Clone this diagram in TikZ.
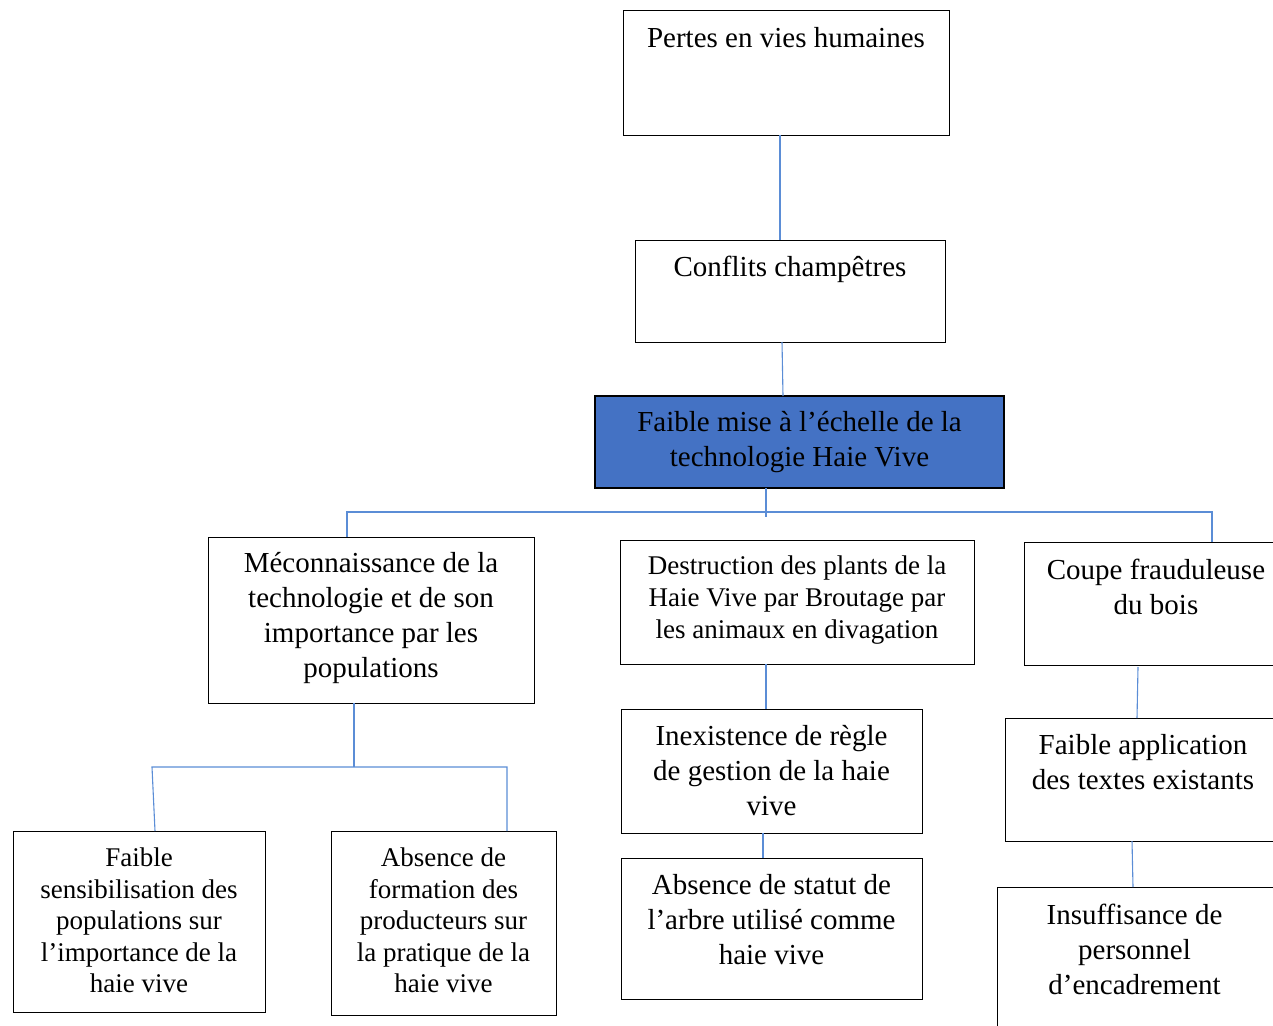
\documentclass[tikz,border=0pt]{standalone}
\usepackage{fontspec}
\setmainfont{Liberation Serif}
\usetikzlibrary{positioning}
\definecolor{linkblue}{RGB}{91,141,214}
\definecolor{miseblue}{RGB}{68,114,196}

\begin{document}
\begin{tikzpicture}[x=1pt,y=-1pt,
  box/.style={draw, line width=1pt, inner sep=0pt, outer sep=0pt, anchor=north west},
  txt/.style={inner sep=0pt, align=center, font=\fontsize{29}{35}\selectfont},
  smalltxt/.style={txt, font=\fontsize{27}{32}\selectfont},
  leaftxt/.style={txt, font=\fontsize{27}{31.5}\selectfont},
  link/.style={draw=linkblue, line width=1.1pt}]
\useasboundingbox (0,0) rectangle (1273,1025);
\clip (0,0) rectangle (1273,1025);

% boxes
\node[box, minimum width=326, minimum height=124] (pertes) at (623,11) {};
\node[box, minimum width=310, minimum height=102] (conflits) at (635,240) {};
\node[box, fill=miseblue, line width=1.4pt, minimum width=409, minimum height=92] (mise) at (595,396) {};
\node[box, minimum width=326, minimum height=166] (meconn) at (208,537) {};
\node[box, minimum width=354, minimum height=124] (destr) at (620,540) {};
\node[box, minimum width=264, minimum height=123] (coupe) at (1024,542) {};
\node[box, minimum width=301, minimum height=124] (inexist) at (621,709) {};
\node[box, minimum width=301, minimum height=141] (statut) at (621,858) {};
\node[box, minimum width=276, minimum height=123] (applic) at (1005,718) {};
\node[box, minimum width=293, minimum height=160] (insuff) at (997,887) {};
\node[box, minimum width=252, minimum height=181] (sensib) at (13,831) {};
\node[box, minimum width=225, minimum height=184] (formation) at (331,831) {};

% texts
\node[txt, below=16pt of pertes.north] (pertes-t) {Pertes en vies humaines};
\node[txt, below=16pt of conflits.north] (conflits-t) {Conflits champêtres};
\node[txt] (mise-t) at (mise.center) {Faible mise à l’échelle de la\\technologie Haie Vive};
\node[txt, below=15pt of meconn.north] (meconn-t) {Méconnaissance de la\\technologie et de son\\importance par les\\populations};
\node[smalltxt, below=16pt of destr.north] (destr-t) {Destruction des plants de la\\Haie Vive par Broutage par\\les animaux en divagation};
\node[txt, below=17pt of coupe.north] (coupe-t) {Coupe frauduleuse\\du bois};
\node[txt, below=16pt of inexist.north] (inexist-t) {Inexistence de règle\\de gestion de la haie\\vive};
\node[txt, below=16pt of statut.north] (statut-t) {Absence de statut de\\l’arbre utilisé comme\\haie vive};
\node[txt, below=16pt of applic.north] (applic-t) {Faible application\\des textes existants};
\node[txt, below=17pt of insuff.north, xshift=-9] (insuff-t) {Insuffisance de\\personnel\\d’encadrement};
\node[leaftxt, below=17pt of sensib.north] (sensib-t) {Faible\\sensibilisation des\\populations sur\\l’importance de la\\haie vive};
\node[leaftxt, below=17pt of formation.north] (formation-t) {Absence de\\formation des\\producteurs sur\\la pratique de la\\haie vive};

% connectors
\draw[link] ([xshift=-6]pertes.south) -- ([xshift=-10]conflits.north);
\draw[link] ([xshift=-8]conflits.south) -- ([xshift=-16.5]mise.north);
\draw[link] ([xshift=-33.5]mise.south) -- ++(0,29);
\draw[link] ([xshift=-24]meconn.north) -- ++(0,-25) -| ([xshift=56]coupe.north);
\draw[link] ([xshift=-31]destr.south) -- ([xshift=-5.5]inexist.north);
\draw[link] ([xshift=-8.5]inexist.south) -- ([xshift=-8.5]statut.north);
\draw[link] ([xshift=-18,yshift=-2]coupe.south) -- ([xshift=-6]applic.north);
\draw[link] ([xshift=-11]applic.south) -- ([xshift=-10.5]insuff.north);
\draw[link] ([xshift=-17]meconn.south) -- ++(0,64);
\draw[link] ([xshift=16]sensib.north) -- ++(-3,-64) -- ++(355,0) -- ([xshift=63.5]formation.north);
\end{tikzpicture}
\end{document}
